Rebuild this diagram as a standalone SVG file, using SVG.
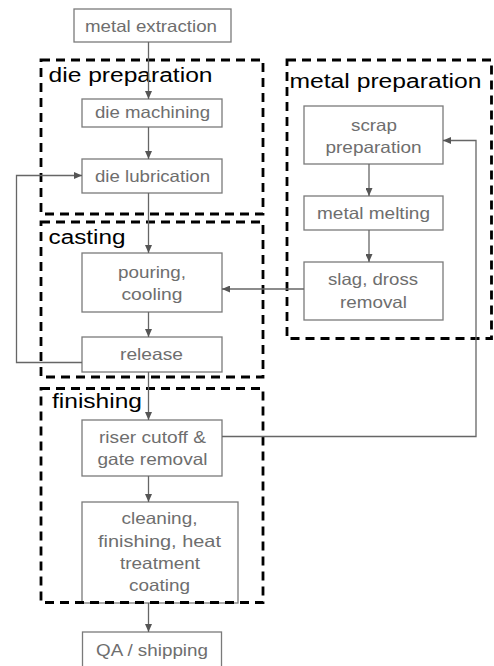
<svg xmlns="http://www.w3.org/2000/svg" width="494" height="666" viewBox="0 0 494 666">
  <defs>
    <marker id="arrow" markerUnits="userSpaceOnUse" markerWidth="8" markerHeight="7" refX="8" refY="3.5" orient="auto">
      <path d="M0,0 L8,3.5 L0,7 z" fill="#555"/>
    </marker>
    <style>
      .box { fill: #fff; stroke: #7a7a7a; stroke-width: 1.3; }
      .lbl { font-family: "Liberation Sans", Arial, sans-serif; font-size: 16.5px; fill: #6e6e6e; }
      .frame { fill: none; stroke: #000; stroke-width: 2.8; stroke-dasharray: 9 6; }
      .title { font-family: "Liberation Sans", Arial, sans-serif; font-size: 20px; fill: #000; }
      .edge { fill: none; stroke: #666; stroke-width: 1.3; }
      .edge.arr { marker-end: url(#arrow); }
    </style>
  </defs>
  <rect width="494" height="666" fill="#fff"/>

  <!-- process steps -->
  <g id="metal-extraction">
    <rect class="box" x="74" y="9" width="157" height="33"/>
    <text class="lbl" x="85" y="32" textLength="132" lengthAdjust="spacingAndGlyphs">metal extraction</text>
  </g>
  <g id="die-machining">
    <rect class="box" x="82" y="99" width="140" height="28"/>
    <text class="lbl" x="95" y="118" textLength="115" lengthAdjust="spacingAndGlyphs">die machining</text>
  </g>
  <g id="die-lubrication">
    <rect class="box" x="82" y="159" width="140" height="34"/>
    <text class="lbl" x="95" y="182" textLength="115" lengthAdjust="spacingAndGlyphs">die lubrication</text>
  </g>
  <g id="pouring-cooling">
    <rect class="box" x="82" y="253" width="140" height="59"/>
    <text class="lbl" x="118" y="278" textLength="68" lengthAdjust="spacingAndGlyphs">pouring,</text>
    <text class="lbl" x="121.5" y="300" textLength="61" lengthAdjust="spacingAndGlyphs">cooling</text>
  </g>
  <g id="release">
    <rect class="box" x="82" y="337" width="140" height="35"/>
    <text class="lbl" x="120" y="360" textLength="63" lengthAdjust="spacingAndGlyphs">release</text>
  </g>
  <g id="riser-cutoff">
    <rect class="box" x="82" y="420" width="140" height="56"/>
    <text class="lbl" x="99" y="443" textLength="107" lengthAdjust="spacingAndGlyphs">riser cutoff &amp;</text>
    <text class="lbl" x="97.5" y="465" textLength="110" lengthAdjust="spacingAndGlyphs">gate removal</text>
  </g>
  <g id="cleaning">
    <rect class="box" x="82" y="502" width="156" height="101"/>
    <text class="lbl" x="121.5" y="524" textLength="76" lengthAdjust="spacingAndGlyphs">cleaning,</text>
    <text class="lbl" x="98" y="546.5" textLength="123" lengthAdjust="spacingAndGlyphs">finishing,  heat</text>
    <text class="lbl" x="120" y="569" textLength="80" lengthAdjust="spacingAndGlyphs">treatment</text>
    <text class="lbl" x="129" y="591" textLength="61" lengthAdjust="spacingAndGlyphs">coating</text>
  </g>
  <g id="qa-shipping">
    <rect class="box" x="82.5" y="632" width="139" height="40"/>
    <text class="lbl" x="96" y="656" textLength="112" lengthAdjust="spacingAndGlyphs">QA / shipping</text>
  </g>
  <g id="scrap-preparation">
    <rect class="box" x="304" y="106" width="139" height="58"/>
    <text class="lbl" x="351" y="131" textLength="46" lengthAdjust="spacingAndGlyphs">scrap</text>
    <text class="lbl" x="325.5" y="153" textLength="96" lengthAdjust="spacingAndGlyphs">preparation</text>
  </g>
  <g id="metal-melting">
    <rect class="box" x="304" y="196" width="139" height="34"/>
    <text class="lbl" x="317" y="219" textLength="113" lengthAdjust="spacingAndGlyphs">metal melting</text>
  </g>
  <g id="slag-removal">
    <rect class="box" x="304" y="262" width="139" height="58"/>
    <text class="lbl" x="328" y="285" textLength="90" lengthAdjust="spacingAndGlyphs">slag, dross</text>
    <text class="lbl" x="340" y="308" textLength="67" lengthAdjust="spacingAndGlyphs">removal</text>
  </g>

  <!-- stage frames -->
  <g id="stage-die-preparation">
    <rect class="frame" x="41" y="60" width="222" height="154"/>
    <text class="title" x="48.5" y="81.5" textLength="164" lengthAdjust="spacingAndGlyphs">die preparation</text>
  </g>
  <g id="stage-casting">
    <rect class="frame" x="41" y="222" width="222" height="155"/>
    <text class="title" x="48.5" y="244" textLength="77" lengthAdjust="spacingAndGlyphs">casting</text>
  </g>
  <g id="stage-finishing">
    <rect class="frame" x="41" y="388.5" width="222" height="214"/>
    <text class="title" x="52" y="408" textLength="90" lengthAdjust="spacingAndGlyphs">finishing</text>
  </g>
  <g id="stage-metal-preparation">
    <rect class="frame" x="287" y="60" width="204.5" height="278.5"/>
    <text class="title" x="289.5" y="88" textLength="192" lengthAdjust="spacingAndGlyphs">metal preparation</text>
  </g>

  <!-- connectors -->
  <g id="connectors">
    <path class="edge arr" d="M148.5,42 V99"/>
    <path class="edge arr" d="M148.5,127 V159"/>
    <path class="edge arr" d="M148.5,193 V253"/>
    <path class="edge arr" d="M148.5,312 V337"/>
    <path class="edge arr" d="M148.5,372 V420"/>
    <path class="edge arr" d="M148.5,476 V502"/>
    <path class="edge arr" d="M148.5,603 V632"/>
    <path class="edge arr" d="M369,164 V196"/>
    <path class="edge arr" d="M369,230 V262"/>
    <path class="edge arr" d="M304,289 H222"/>
    <path class="edge arr" d="M82,362.5 H16.5 V175.5 H82"/>
    <path class="edge arr" d="M222,436.5 H476 V140.5 H443"/>
  </g>
</svg>
